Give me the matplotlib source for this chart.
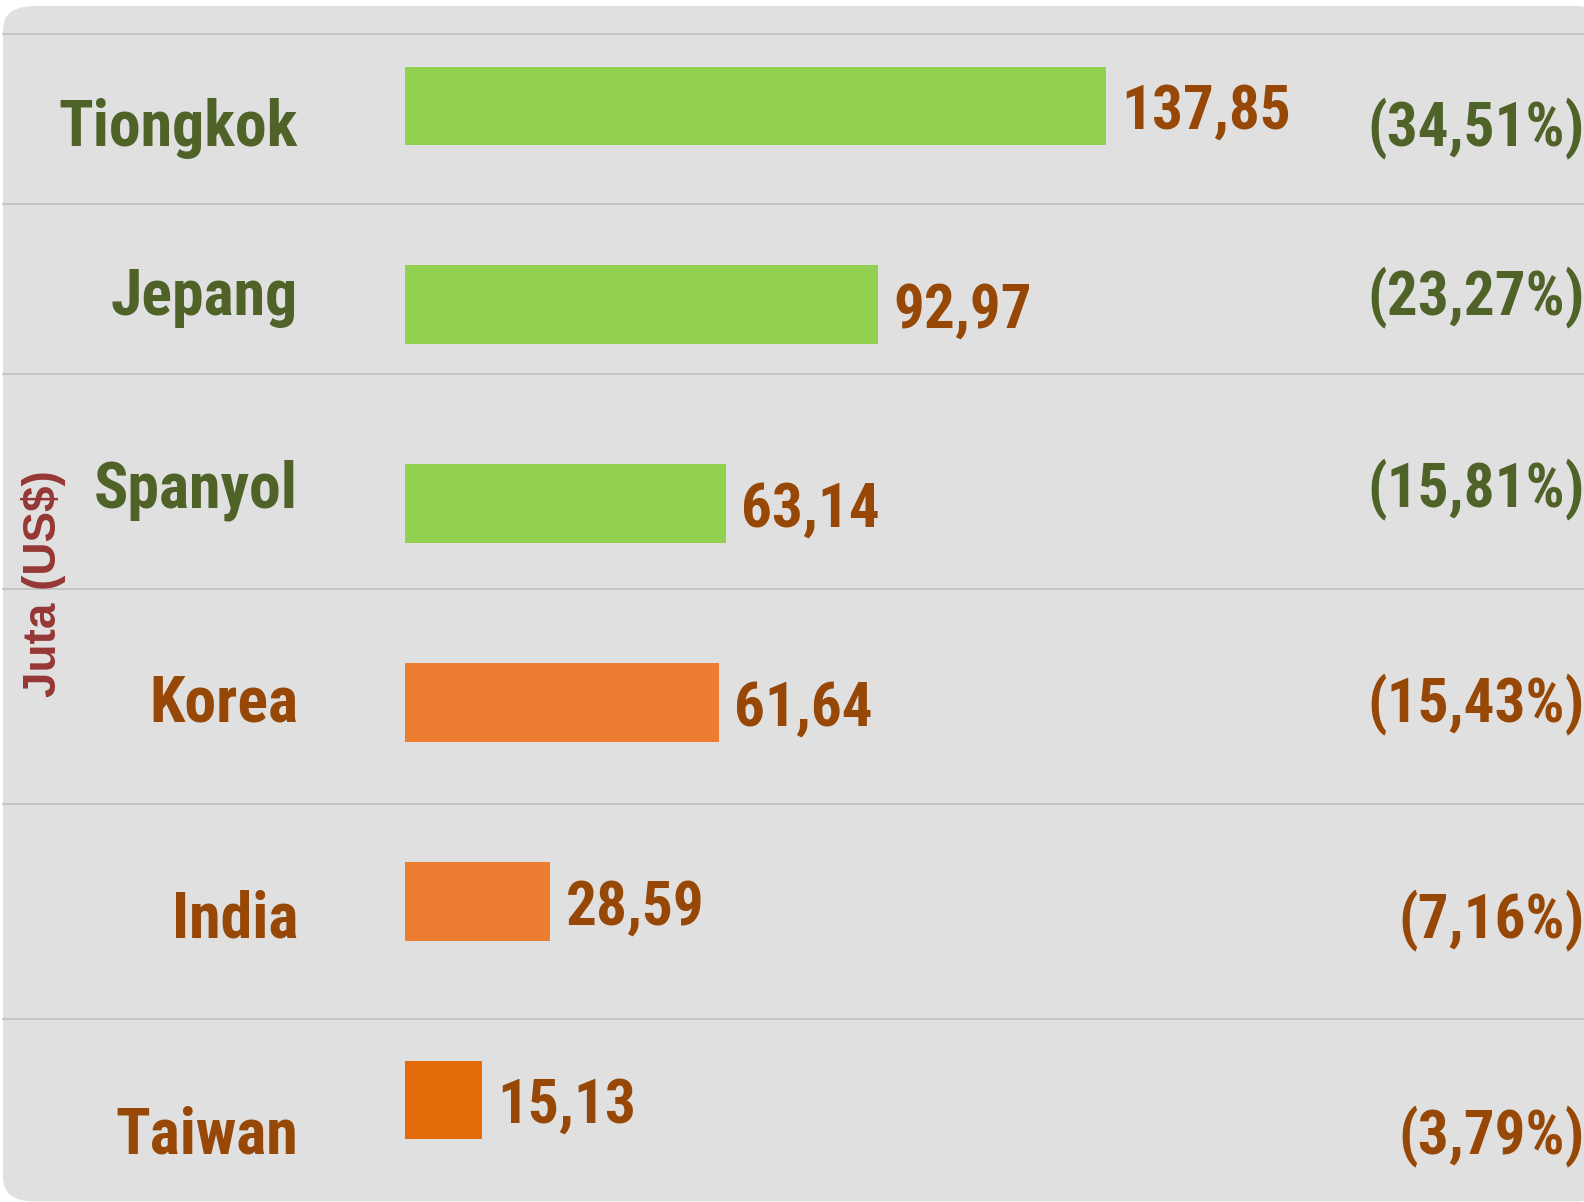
import matplotlib.pyplot as plt
from matplotlib import font_manager
from matplotlib.patches import FancyBboxPatch
from matplotlib.lines import Line2D

countries = ["Tiongkok", "Jepang", "Spanyol", "Korea", "India", "Taiwan"]
values = [137.85, 92.97, 63.14, 61.64, 28.59, 15.13]
value_labels = ["137,85", "92,97", "63,14", "61,64", "28,59", "15,13"]
shares = ["(34,51%)", "(23,27%)", "(15,81%)", "(15,43%)", "(7,16%)", "(3,79%)"]

GREEN_TXT = "#4f6228"
BROWN_TXT = "#974806"
bar_colors = ["#92d050", "#92d050", "#92d050", "#ed7d31", "#ed7d31", "#e36c09"]
label_colors = [GREEN_TXT, GREEN_TXT, GREEN_TXT, BROWN_TXT, BROWN_TXT, BROWN_TXT]


def pick_narrow():
    # a condensed bold face is what the slide uses; fall back to Arial metrics
    for fam in ["Liberation Sans Narrow", "Roboto Condensed", "Arial Narrow"]:
        try:
            font_manager.findfont(font_manager.FontProperties(family=fam, weight="bold"),
                                  fallback_to_default=False)
            return [fam, "DejaVu Sans"], 1.0
        except ValueError:
            pass
    return ["Liberation Sans", "DejaVu Sans"], 0.87


NARROW, k = pick_narrow()
FS_NAME = 46 * k
FS_NUM = 44 * k

W, H = 1584, 1202
fig = plt.figure(figsize=(W / 100, H / 100), dpi=100)
fig.patch.set_facecolor("white")

# rounded grey panel
panel = FancyBboxPatch((3 / W, 0.5 / H), (W + 20) / W, (H - 6.5) / H,
                       boxstyle="round,pad=0,rounding_size=0.02",
                       transform=fig.transFigure, facecolor="#e0e0e0",
                       edgecolor="none", zorder=-2)
fig.patches.append(panel)

# row separators (pixel rows taken from the slide layout)
for yp in [34, 204, 374, 589, 804, 1019]:
    fig.add_artist(Line2D([3 / W, 1], [1 - yp / H, 1 - yp / H],
                          transform=fig.transFigure, color="#c4c4c4", lw=1.3, zorder=-1))

ax = fig.add_axes([405 / W, 2.6 / H, 1 - 405 / W, 1192.8 / H])
ax.patch.set_visible(False)
ax.barh(range(len(values)), values, height=0.396, color=bar_colors, zorder=2)
ax.set_xlim(0, 231.8)
ax.set_ylim(5.5, -0.5)
ax.axis("off")

for i, (v, lab) in enumerate(zip(values, value_labels)):
    ax.annotate(lab, (v, i), xytext=(11, 0), textcoords="offset points",
                ha="left", va="center_baseline", fontsize=FS_NUM, fontweight="bold",
                color=BROWN_TXT, family=NARROW)

# category names and shares share a baseline within each row
baselines = [146, 315, 507, 722, 938, 1154]
for name, share, c, b in zip(countries, shares, label_colors, baselines):
    fig.text(298 / W, 1 - b / H, name, ha="right", va="baseline", fontsize=FS_NAME,
             fontweight="bold", color=c, family=NARROW)
    fig.text(1585 / W, 1 - b / H, share, ha="right", va="baseline", fontsize=FS_NUM,
             fontweight="bold", color=c, family=NARROW)

fig.text(43 / W, 1 - 584 / H, "Juta (US$)", rotation=90, ha="center", va="center",
         fontsize=33, fontweight="bold", color="#953735",
         family=["Liberation Sans", "DejaVu Sans"])

fig.savefig("out.png", dpi=100)
